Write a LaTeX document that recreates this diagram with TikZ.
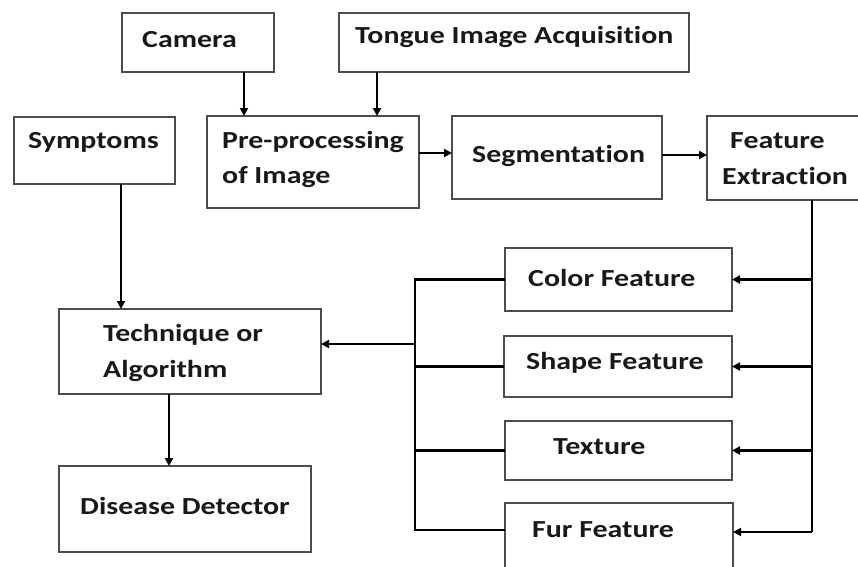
\documentclass[tikz,border=0pt]{standalone}
\usepackage{fontspec}
\newfontfamily\lblfont{Carlito}[FakeStretch=1.22, Ligatures=NoCommon]
\usetikzlibrary{arrows.meta}
\begin{document}
\begin{tikzpicture}[x=1pt,y=-1pt,
  box/.style={draw=black!70, line width=1.5pt, rectangle, anchor=north west, inner sep=0pt, outer sep=0pt},
  lbl/.style={anchor=base west, inner sep=0pt, text=black!90, font=\lblfont\bfseries\fontsize{24.5}{35}\selectfont},
  conn/.style={draw=black, line width=2.5pt},
  arr/.style={conn, -{Triangle[length=8pt,width=8pt]}}]
\fill[white] (0,0) rectangle (858,566);
\useasboundingbox (0,0) rectangle (858,566);
\clip (0,0) rectangle (858,566);
% boxes
\node[box, minimum width=152, minimum height=59] (cam) at (122,13) {};
\node[box, minimum width=350, minimum height=59] (tongue) at (339,13) {};
\node[box, minimum width=161, minimum height=67] (symp) at (14,117) {};
\node[box, minimum width=212, minimum height=92] (pre) at (207,116) {};
\node[box, minimum width=210, minimum height=83] (seg) at (452,116) {};
\node[box, minimum width=200, minimum height=84] (fe) at (707,116) {};
\node[box, minimum width=262, minimum height=85] (tech) at (59,309) {};
\node[box, minimum width=252, minimum height=86] (dis) at (59,466) {};
\node[box, minimum width=227, minimum height=63] (color) at (505,248) {};
\node[box, minimum width=228, minimum height=61] (shape) at (504,336) {};
\node[box, minimum width=227, minimum height=59] (texture) at (505,421) {};
\node[box, minimum width=228, minimum height=100] (fur) at (505,503) {};
% labels
\node[lbl] (tcam) at (142,47) {Camera};
\node[lbl] (ttongue) at (355,43) {Tongue Image Acquisition};
\node[lbl] (tsymp) at (28,148) {Symptoms};
\node[lbl] (tpre1) at (222,148) {Pre-processing};
\node[lbl] (tpre2) at (222,183) {of Image};
\node[lbl] (tseg) at (472,162) {Segmentation};
\node[lbl] (tfe1) at (730,148) {Feature};
\node[lbl] (tfe2) at (722,184) {Extraction};
\node[lbl] (ttech1) at (103,341) {Technique or};
\node[lbl] (ttech2) at (103,377) {Algorithm};
\node[lbl] (tdis) at (80,514) {Disease Detector};
\node[lbl] (tcolor) at (528,286) {Color Feature};
\node[lbl] (tshape) at (526,369) {Shape Feature};
\node[lbl] (ttex) at (553,454) {Texture};
\node[lbl] (tfur) at (532,537) {Fur Feature};
% helper coordinates
\coordinate (c1) at (244,0);
\coordinate (c2) at (377,0);
\coordinate (c3) at (121,0);
\coordinate (c4) at (169,0);
\coordinate (bus) at (415,0);
\coordinate (rbus) at (812,0);
\coordinate (r1) at (0,153);
\coordinate (r2) at (0,155);
\coordinate (rt) at (0,344);
\coordinate (rfl) at (0,530);
\coordinate (rfr) at (0,532);
% connectors
\draw[arr] (c1 |- cam.south) -- (c1 |- pre.north);
\draw[arr] (c2 |- tongue.south) -- (c2 |- pre.north);
\draw[arr] (pre.east |- r1) -- (seg.west |- r1);
\draw[arr] (seg.east |- r2) -- (fe.west |- r2);
\draw[arr] (c3 |- symp.south) -- (c3 |- tech.north);
\draw[arr] (c4 |- tech.south) -- (c4 |- dis.north);
\draw[conn] (rbus |- fe.south) -- (rbus |- rfr);
\draw[arr] (rbus |- rfr) -- (fur.east |- rfr);
\draw[arr] (rbus |- color.east) -- (color.east);
\draw[arr] (rbus |- shape.east) -- (shape.east);
\draw[arr] (rbus |- texture.east) -- (texture.east);
\draw[conn] (color.west) -- (bus |- color.west) -- (bus |- rfl) -- (fur.west |- rfl);
\draw[conn] (shape.west) -- (bus |- shape.west);
\draw[conn] (texture.west) -- (bus |- texture.west);
\draw[arr] (bus |- rt) -- (tech.east |- rt);
\end{tikzpicture}
\end{document}
